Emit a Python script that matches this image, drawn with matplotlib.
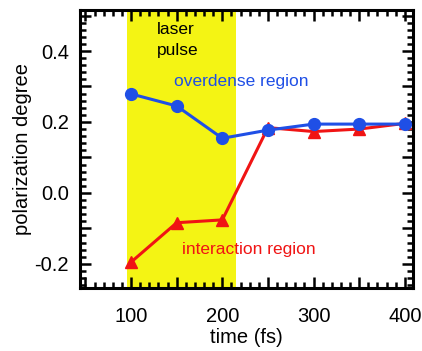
import matplotlib.pyplot as plt
import numpy as np
from matplotlib.ticker import MultipleLocator, FuncFormatter

plt.rcParams['font.family'] = ['Liberation Sans', 'DejaVu Sans']

# data
time_fs = [100, 150, 200, 250, 300, 350, 400]
overdense = [0.279, 0.245, 0.154, 0.177, 0.194, 0.194, 0.194]
interaction = [-0.195, -0.084, -0.076, 0.184, 0.173, 0.180, 0.196]
pulse_span = [96, 215]

blue = '#1f4fe6'
red = '#f01414'
yellow = '#f4f414'

fig = plt.figure(figsize=(4.22, 3.51), dpi=100)
ax = fig.add_axes([80/422, 1 - 288/351, (413-80)/422, (288-9.5)/351])

ax.axvspan(pulse_span[0], pulse_span[1], color=yellow, zorder=0, lw=0)

ax.plot(time_fs, interaction, color=red, lw=2.2, marker='^', ms=9, zorder=3, clip_on=False)
ax.plot(time_fs, overdense, color=blue, lw=2.2, marker='o', ms=8.5, zorder=4, clip_on=False)

ax.set_xlim(44, 409)
ax.set_ylim(-0.268, 0.517)

ax.xaxis.set_major_locator(MultipleLocator(50))
ax.xaxis.set_minor_locator(MultipleLocator(10))
ax.yaxis.set_major_locator(MultipleLocator(0.1))
ax.yaxis.set_minor_locator(MultipleLocator(0.02))

def xfmt(v, pos):
    return '%d' % v if abs(v % 100) < 1e-6 else ''

def yfmt(v, pos):
    k = round(v / 0.1)
    return '%.1f' % v if k % 2 == 0 else ''

ax.xaxis.set_major_formatter(FuncFormatter(xfmt))
ax.yaxis.set_major_formatter(FuncFormatter(yfmt))

ax.tick_params(which='both', direction='in', top=True, right=True, width=1.8, labelsize=14.5)
ax.tick_params(axis='x', pad=14)
ax.tick_params(axis='y', pad=8)
ax.tick_params(which='major', length=8)
ax.tick_params(which='minor', length=4)
for s in ax.spines.values():
    s.set_linewidth(2.2)

ax.set_xlabel('time (fs)', fontsize=14.5, labelpad=1)
ax.set_ylabel('polarization degree', fontsize=14.5, labelpad=2)

ax.text(128, 0.482, 'laser\npulse', fontsize=12.5, va='top', ha='left', color='black', linespacing=1.5)
ax.text(147, 0.313, 'overdense region', fontsize=12.5, va='center', ha='left', color=blue)
ax.text(156, -0.16, 'interaction region', fontsize=12.5, va='center', ha='left', color=red)

fig.savefig('out.png', dpi=100)
